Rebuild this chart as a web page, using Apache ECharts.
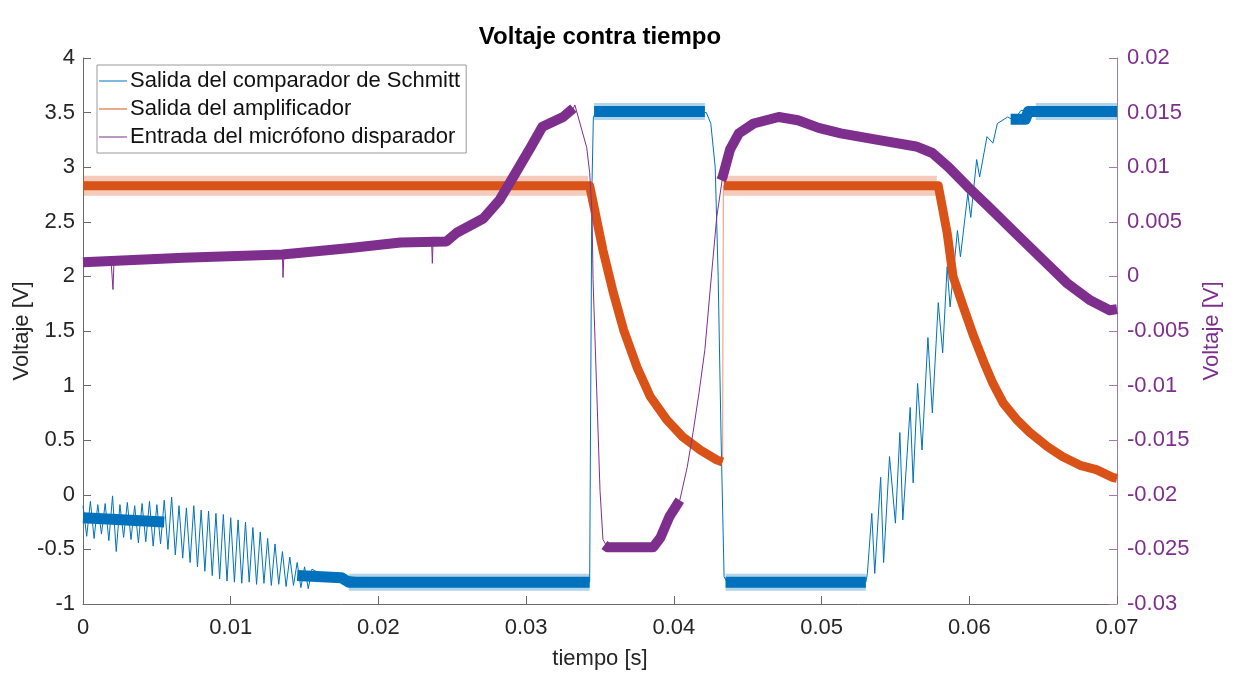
<!DOCTYPE html>
<html>
<head>
<meta charset="utf-8">
<script src="https://cdn.jsdelivr.net/npm/echarts@6/dist/echarts.min.js"></script>
<style>
html,body{margin:0;padding:0;background:#fff;}
#chart{width:1239px;height:673px;}
</style>
</head>
<body>
<div id="chart"></div>
<script>
// ---------- text ----------
const titleText = 'Voltaje contra tiempo';
const xName = 'tiempo [s]';
const yLeftName = 'Voltaje [V]';
const yRightName = 'Voltaje [V]';
const seriesNames = ['Salida del comparador de Schmitt', 'Salida del amplificador', 'Entrada del micrófono disparador'];

// ---------- tick labels ----------
const xTickLabels = ['0', '0.01', '0.02', '0.03', '0.04', '0.05', '0.06', '0.07'];
const yLeftTickLabels = ['-1', '-0.5', '0', '0.5', '1', '1.5', '2', '2.5', '3', '3.5', '4'];
const yRightTickLabels = ['-0.03', '-0.025', '-0.02', '-0.015', '-0.01', '-0.005', '0', '0.005', '0.01', '0.015', '0.02'];

// ---------- Schmitt comparator output (left axis), full trace ----------
const blueT = [
  0.00000, 0.00025, 0.00050, 0.00075, 0.00100, 0.00125, 0.00150, 0.00175, 0.00200, 0.00225,
  0.00250, 0.00275, 0.00300, 0.00325, 0.00350, 0.00375, 0.00400, 0.00425, 0.00450, 0.00475,
  0.00500, 0.00525, 0.00550, 0.00575, 0.00600, 0.00625, 0.00650, 0.00675, 0.00700, 0.00725,
  0.00750, 0.00775, 0.00800, 0.00825, 0.00850, 0.00875, 0.00900, 0.00925, 0.00950, 0.00975,
  0.01000, 0.01025, 0.01050, 0.01075, 0.01100, 0.01125, 0.01150, 0.01175, 0.01200, 0.01225,
  0.01250, 0.01275, 0.01300, 0.01325, 0.01350, 0.01375, 0.01400, 0.01425, 0.01450, 0.01475,
  0.01500, 0.01525, 0.01550, 0.01600, 0.02000, 0.02500, 0.03000, 0.03430,
  0.03445, 0.03455, 0.03470, 0.04220, 0.04250, 0.04280, 0.04300, 0.04320, 0.04340, 0.04360,
  0.05300, 0.05310, 0.05340, 0.05360, 0.05400, 0.05420, 0.05460, 0.05500, 0.05530, 0.05550,
  0.05600, 0.05620, 0.05650, 0.05680, 0.05720, 0.05750, 0.05790, 0.05820, 0.05850, 0.05870,
  0.05920, 0.05940, 0.05990, 0.06010, 0.06050, 0.06070, 0.06120, 0.06160, 0.06190, 0.06260,
  0.06300, 0.06350, 0.07000
];
const blueV = [
  -0.10, -0.38, -0.06, -0.40, -0.09, -0.36, -0.08, -0.42, -0.01, -0.52,
  -0.09, -0.39, -0.07, -0.41, -0.10, -0.44, -0.08, -0.43, -0.06, -0.47,
  -0.09, -0.45, -0.05, -0.50, -0.02, -0.55, -0.10, -0.58, -0.12, -0.62,
  -0.10, -0.66, -0.14, -0.70, -0.15, -0.74, -0.17, -0.77, -0.18, -0.79,
  -0.21, -0.80, -0.23, -0.81, -0.25, -0.80, -0.30, -0.82, -0.34, -0.81,
  -0.40, -0.83, -0.45, -0.82, -0.52, -0.84, -0.57, -0.83, -0.62, -0.85,
  -0.66, -0.86, -0.68, -0.72, -0.78, -0.80, -0.80, -0.80,
  2.80, 3.45, 3.51, 3.50, 3.40, 3.00, 2.00, 0.50, -0.75, -0.80,
  -0.80, -0.72, -0.17, -0.72, 0.16, -0.62, 0.35, -0.26, 0.57, -0.23,
  0.80, 0.11, 1.02, 0.41, 1.44, 0.75, 1.76, 1.30, 2.09, 1.72,
  2.42, 2.18, 2.76, 2.54, 3.07, 2.91, 3.28, 3.22, 3.40, 3.46,
  3.43, 3.52, 3.52
];
// dense noise core of the comparator output (null = gap)
const blueBandT = [0.0000, 0.0055, 0.0056, 0.0145, 0.0175, 0.0180, 0.0343, 0.0344, 0.0346, 0.0421, 0.0422, 0.0435, 0.0530, 0.0531, 0.0628, 0.0638, 0.0640, 0.0700];
const blueBandV = [-0.21, -0.25, null, -0.74, -0.76, -0.80, -0.80, null, 3.51, 3.51, null, -0.80, -0.80, null, 3.44, 3.44, 3.51, 3.51];
// lighter spike fringe around the flat parts
const blueFringeT = [0.0180, 0.0343, 0.0344, 0.0346, 0.0421, 0.0422, 0.0435, 0.0530, 0.0531, 0.0645, 0.0700];
const blueFringeV = [-0.80, -0.80, null, 3.51, 3.51, null, -0.80, -0.80, null, 3.51, 3.51];

// ---------- amplifier output (left axis) ----------
const orangeT = [
  0.0000, 0.0343, 0.0352, 0.0359, 0.0366, 0.0375, 0.0384, 0.0395, 0.0406, 0.0418,
  0.0429, 0.0433, 0.04335, 0.0579, 0.0585, 0.0589, 0.0596, 0.0603, 0.0610, 0.0616,
  0.0623, 0.0632, 0.0641, 0.0653, 0.0663, 0.0675, 0.0686, 0.0697, 0.0700
];
const orangeV = [
  2.83, 2.83, 2.24, 1.85, 1.51, 1.17, 0.90, 0.69, 0.53, 0.41,
  0.32, 0.30, 2.83, 2.83, 2.40, 2.00, 1.72, 1.45, 1.21, 1.02,
  0.84, 0.69, 0.57, 0.44, 0.35, 0.27, 0.23, 0.16, 0.15
];
const orangeBandT = [0.0000, 0.0343, 0.0352, 0.0359, 0.0366, 0.0375, 0.0384, 0.0395, 0.0406, 0.0418, 0.0429, 0.0433, 0.04332,
  0.04338, 0.0579, 0.0585, 0.0589, 0.0596, 0.0603, 0.0610, 0.0616, 0.0623, 0.0632, 0.0641, 0.0653, 0.0663, 0.0675, 0.0686, 0.0697, 0.0700];
const orangeBandV = [2.83, 2.83, 2.24, 1.85, 1.51, 1.17, 0.90, 0.69, 0.53, 0.41, 0.32, 0.30, null,
  2.83, 2.83, 2.40, 2.00, 1.72, 1.45, 1.21, 1.02, 0.84, 0.69, 0.57, 0.44, 0.35, 0.27, 0.23, 0.16, 0.15];
const orangeFringeT = [0.0000, 0.0342, 0.0343, 0.04340, 0.0578];
const orangeFringeV = [2.83, 2.83, null, 2.83, 2.83];

// ---------- trigger microphone input (right axis) ----------
const purpleT = [
  0.0000, 0.0019, 0.00203, 0.0021, 0.0068, 0.0135, 0.01354, 0.0136, 0.0181, 0.0215,
  0.0236, 0.02365, 0.0237, 0.0246, 0.0253, 0.0271, 0.0282, 0.0293, 0.0303, 0.0311,
  0.0325, 0.0332, 0.0333, 0.0341, 0.0343, 0.03446, 0.03453, 0.0350, 0.0352, 0.0355,
  0.0386, 0.0391, 0.0397, 0.0404, 0.0409, 0.0413, 0.0417, 0.0421, 0.0425, 0.0429,
  0.0433, 0.0438, 0.0444, 0.0454, 0.0471, 0.0484, 0.0498, 0.0513, 0.0538, 0.0564,
  0.0575, 0.0586, 0.0599, 0.0613, 0.0631, 0.0650, 0.0666, 0.0682, 0.0695, 0.0700
];
const purpleV = [
  0.0013, 0.0014, -0.0012, 0.0014, 0.0017, 0.0020, -0.0001, 0.0020, 0.0026, 0.0031,
  0.0032, 0.0012, 0.0032, 0.0032, 0.0040, 0.0053, 0.0070, 0.0095, 0.0118, 0.0137,
  0.0146, 0.0154, 0.0157, 0.0118, 0.0095, 0.0058, -0.0003, -0.0196, -0.0241, -0.0248,
  -0.0248, -0.0239, -0.0220, -0.0205, -0.0175, -0.0143, -0.0107, -0.0067, -0.0006, 0.0054,
  0.0091, 0.0116, 0.0131, 0.0140, 0.0146, 0.0143, 0.0136, 0.0131, 0.0125, 0.0119,
  0.0113, 0.0100, 0.0082, 0.0064, 0.0040, 0.0015, -0.0006, -0.0022, -0.0031, -0.0030
];
const purpleBandT = [0.0000, 0.0068, 0.0135, 0.0181, 0.0215, 0.0246, 0.0253, 0.0271, 0.0282, 0.0293, 0.0303, 0.0311, 0.0325, 0.0332,
  0.0334, 0.0353, 0.0355, 0.0386, 0.0391, 0.0397, 0.0404, 0.0405, 0.0432, 0.0433, 0.0438, 0.0444, 0.0454, 0.0471, 0.0484, 0.0498,
  0.0513, 0.0538, 0.0564, 0.0575, 0.0586, 0.0599, 0.0613, 0.0631, 0.0650, 0.0666, 0.0682, 0.0695, 0.0700];
const purpleBandV = [0.0013, 0.0017, 0.0020, 0.0026, 0.0031, 0.0032, 0.0040, 0.0053, 0.0070, 0.0095, 0.0118, 0.0137, 0.0146, 0.0154,
  null, -0.0246, -0.0248, -0.0248, -0.0239, -0.0220, -0.0205, null, 0.0088, 0.0091, 0.0116, 0.0131, 0.0140, 0.0146, 0.0143, 0.0136,
  0.0131, 0.0125, 0.0119, 0.0113, 0.0100, 0.0082, 0.0064, 0.0040, 0.0015, -0.0006, -0.0022, -0.0031, -0.0030];

// ---------- build ----------
const pairs = (T, V) => T.map((t, i) => [t, V[i] === null ? '-' : V[i]]);
const BLUE = '#0072BD', ORANGE = '#D95319', PURPLE = '#7E2F8E';
const FONT = 'Liberation Sans, Arial, Helvetica, sans-serif';
const FS = 22;
const fmt = (labels) => (v) => {
  for (const s of labels) { if (Math.abs(parseFloat(s) - v) < 1e-9) return s; }
  return '';
};

const chart = echarts.init(document.getElementById('chart'), null, {renderer: 'canvas'});
const lineBase = {type: 'line', showSymbol: false, symbol: 'none', animation: false, sampling: null, connectNulls: false, silent: true};
const mk = (name, axis, color, z, width, opacity, T, V) => Object.assign({}, lineBase, {
  name: name, yAxisIndex: axis, color: color, z: z,
  lineStyle: {color: color, width: width, opacity: opacity, cap: 'butt', join: 'round'},
  data: pairs(T, V)
});

chart.setOption({
  backgroundColor: '#ffffff',
  animation: false,
  textStyle: {fontFamily: FONT},
  title: {
    text: titleText, left: 600, top: 25, textAlign: 'center', padding: 0,
    textStyle: {fontFamily: FONT, fontSize: 24, fontWeight: 'bold', color: '#000'}
  },
  legend: {
    data: seriesNames,
    orient: 'vertical', left: 97, top: 65,
    padding: [5, 6, 5, 2], itemGap: 6, itemWidth: 28, itemHeight: 1, icon: 'rect',
    backgroundColor: '#ffffff', borderColor: '#9a9a9a', borderWidth: 1, borderRadius: 0,
    textStyle: {fontFamily: FONT, fontSize: FS, color: '#111', lineHeight: 22, padding: [0, 0, 0, -2]}
  },
  grid: {left: 83, right: 122, top: 58, bottom: 69, containLabel: false, outerBoundsMode: 'none'},
  xAxis: {
    type: 'value', min: 0, max: 0.07, interval: 0.01,
    name: xName, nameLocation: 'middle', nameGap: 44, nameMoveOverlap: false,
    nameTextStyle: {fontFamily: FONT, fontSize: FS, color: '#262626'},
    axisLine: {show: true, onZero: false, lineStyle: {color: '#6a6a6a', width: 1}},
    axisTick: {show: true, inside: true, length: 8, lineStyle: {color: '#6a6a6a'}},
    axisLabel: {fontFamily: FONT, fontSize: FS, color: '#262626', margin: 13, formatter: fmt(xTickLabels)},
    splitLine: {show: false}
  },
  yAxis: [{
    type: 'value', min: -1, max: 4, interval: 0.5, position: 'left',
    name: yLeftName, nameLocation: 'middle', nameGap: 50, nameRotate: 90, nameMoveOverlap: false,
    nameTextStyle: {fontFamily: FONT, fontSize: FS, color: '#262626'},
    axisLine: {show: true, onZero: false, lineStyle: {color: '#6a6a6a', width: 1}},
    axisTick: {show: true, inside: true, length: 8, lineStyle: {color: '#6a6a6a'}},
    axisLabel: {fontFamily: FONT, fontSize: FS, color: '#262626', margin: 8, formatter: fmt(yLeftTickLabels)},
    splitLine: {show: false}
  }, {
    type: 'value', min: -0.03, max: 0.02, interval: 0.005, position: 'right',
    name: yRightName, nameLocation: 'middle', nameGap: 84, nameRotate: 90, nameMoveOverlap: false,
    nameTextStyle: {fontFamily: FONT, fontSize: FS, color: PURPLE},
    axisLine: {show: true, onZero: false, lineStyle: {color: '#a07aa8', width: 1}},
    axisTick: {show: true, inside: true, length: 8, lineStyle: {color: '#a07aa8'}},
    axisLabel: {fontFamily: FONT, fontSize: FS, color: PURPLE, margin: 10, formatter: fmt(yRightTickLabels)},
    splitLine: {show: false}
  }],
  series: [
    mk(seriesNames[0], 0, BLUE, 2, 1, 1, blueT, blueV),
    mk(seriesNames[0], 0, BLUE, 2, 17, 0.3, blueFringeT, blueFringeV),
    mk(seriesNames[0], 0, BLUE, 2, 11, 1, blueBandT, blueBandV),
    mk(seriesNames[1], 0, ORANGE, 3, 1, 0.6, orangeT, orangeV),
    mk(seriesNames[1], 0, ORANGE, 3, 20, 0.3, orangeFringeT, orangeFringeV),
    mk(seriesNames[1], 0, ORANGE, 3, 9, 1, orangeBandT, orangeBandV),
    mk(seriesNames[2], 1, PURPLE, 4, 1, 1, purpleT, purpleV),
    mk(seriesNames[2], 1, PURPLE, 4, 10, 1, purpleBandT, purpleBandV)
  ]
});
</script>
</body>
</html>
